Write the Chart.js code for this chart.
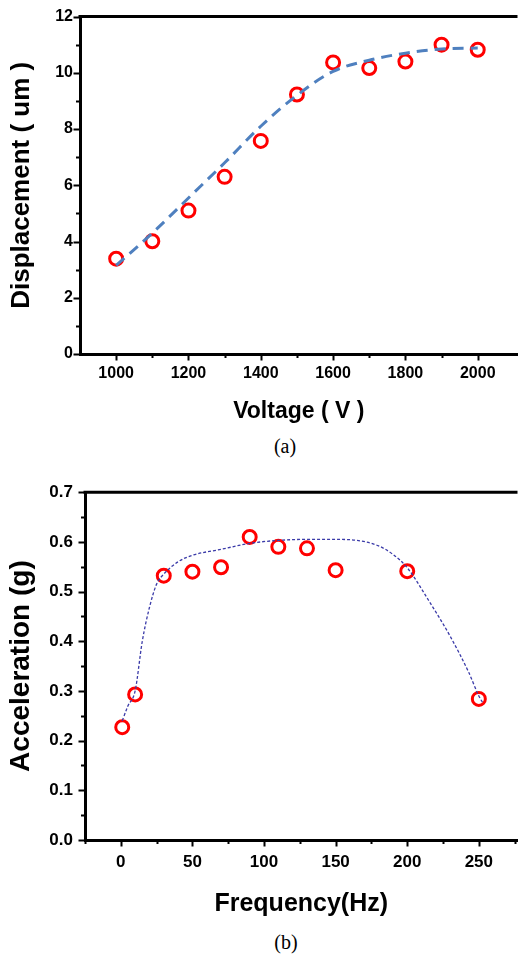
<!DOCTYPE html>
<html>
<head>
<meta charset="utf-8">
<script src="https://cdn.jsdelivr.net/npm/chart.js@4.4.1/dist/chart.umd.min.js"></script>
<style>
  html, body { margin: 0; padding: 0; background: #fff; }
  body { width: 527px; height: 957px; position: relative; overflow: hidden; }
  canvas { position: absolute; left: 0; }
  #chartA { top: 0; }
  #chartB { top: 470px; }
  .cap { position: absolute; font-family: 'Liberation Serif', 'Times New Roman', serif; font-size: 20px; color: #000; transform: translate(-50%, -50%); }
</style>
</head>
<body>
<canvas id="chartA" width="527" height="430"></canvas>
<div class="cap" style="left:285px; top:446px;">(a)</div>
<canvas id="chartB" width="527" height="455"></canvas>
<div class="cap" style="left:286px; top:942px;">(b)</div>
<script>
// (a) displacement vs voltage
const voltage = [1000, 1100, 1200, 1300, 1400, 1500, 1600, 1700, 1800, 1900, 2000];
const displacement = [3.39, 4.01, 5.1, 6.3, 7.58, 9.23, 10.37, 10.17, 10.4, 11.0, 10.82];
const voltageFit = [1000, 1100, 1200, 1300, 1400, 1500, 1600, 1700, 1800, 1900, 2000];
const displacementFit = [3.15, 4.3, 5.55, 6.8, 8.1, 9.2, 10.05, 10.45, 10.7, 10.85, 10.88];
const voltageTicks = [1000, 1200, 1400, 1600, 1800, 2000];
const voltageMinor = [1100, 1300, 1500, 1700, 1900];
const dispTicks = [0, 2, 4, 6, 8, 10, 12];
const dispMinor = [1, 3, 5, 7, 9, 11];

// (b) acceleration vs frequency
const freq = [1, 10, 30, 50, 70, 90, 110, 130, 150, 200, 250];
const accel = [0.227, 0.293, 0.532, 0.540, 0.549, 0.610, 0.590, 0.587, 0.543, 0.541, 0.284];
const freqFit = [1, 5, 10, 15, 20, 25, 30, 40, 50, 70, 90, 110, 130, 150, 165, 180, 190, 200, 215, 230, 243, 250, 253];
const accelFit = [0.24, 0.27, 0.30, 0.40, 0.468, 0.515, 0.535, 0.56, 0.573, 0.585, 0.597, 0.603, 0.605, 0.605, 0.603, 0.592, 0.575, 0.548, 0.482, 0.41, 0.337, 0.29, 0.275];
const freqTicks = [0, 50, 100, 150, 200, 250];
const freqMinor = [-25, 25, 75, 125, 175, 225, 275];
const accelTicks = [0, 0.1, 0.2, 0.3, 0.4, 0.5, 0.6, 0.7];
const accelMinor = [0.05, 0.15, 0.25, 0.35, 0.45, 0.55, 0.65];

const pairs = (xs, ys) => xs.map((x, i) => ({ x: x, y: ys[i] }));

// draws outward major/minor ticks and the top frame line
const axisTicks = {
  id: 'axisTicks',
  afterDraw(chart, args, opts) {
    const { ctx, chartArea: a, scales: { x, y } } = chart;
    ctx.save();
    ctx.strokeStyle = '#000';
    ctx.lineWidth = 2;
    ctx.beginPath();
    const tickX = (vals, len) => vals.forEach(v => {
      const px = Math.round(x.getPixelForValue(v)) + 0.5;
      ctx.moveTo(px, a.bottom);
      ctx.lineTo(px, a.bottom + 1.5 + len);
    });
    const tickY = (vals, len) => vals.forEach(v => {
      const py = Math.round(y.getPixelForValue(v)) + 0.5;
      ctx.moveTo(a.left, py);
      ctx.lineTo(a.left - 1.5 - len, py);
    });
    tickX(opts.xMajor, 5);
    tickX(opts.xMinor, 2.5);
    tickY(opts.yMajor, 5);
    tickY(opts.yMinor, 2.5);
    ctx.stroke();
    ctx.lineWidth = 3;
    ctx.beginPath();
    ctx.moveTo(a.left - 1.5, a.top);
    ctx.lineTo(a.right, a.top);
    ctx.stroke();
    ctx.restore();
  }
};

function makeChart(id, cfg) {
  const tickFont = { family: "'Liberation Sans', Arial, sans-serif", weight: 'bold', size: cfg.tickSize };
  return new Chart(document.getElementById(id), {
    type: 'scatter',
    data: {
      datasets: [
        {
          data: pairs(cfg.fitX, cfg.fitY),
          showLine: true,
          borderColor: cfg.fitColor,
          borderWidth: cfg.fitWidth,
          borderDash: cfg.fitDash,
          cubicInterpolationMode: 'monotone',
          pointRadius: 0,
          fill: false,
          order: 0
        },
        {
          data: pairs(cfg.xs, cfg.ys),
          pointStyle: 'circle',
          pointRadius: 6.5,
          pointBorderWidth: 3,
          pointBorderColor: '#ff0000',
          pointBackgroundColor: 'rgba(0,0,0,0)',
          showLine: false,
          order: 1
        }
      ]
    },
    options: {
      responsive: false,
      animation: false,
      devicePixelRatio: 1,
      layout: { padding: { top: cfg.top, right: 0, left: 0, bottom: 0 } },
      plugins: {
        legend: { display: false },
        tooltip: { enabled: false },
        axisTicks: { xMajor: cfg.xTicks, xMinor: cfg.xMinor, yMajor: cfg.yTicks, yMinor: cfg.yMinor }
      },
      scales: {
        x: {
          type: 'linear',
          min: cfg.xMin,
          max: cfg.xMax,
          afterBuildTicks: s => { s.ticks = cfg.xTicks.map(v => ({ value: v })); },
          afterFit: s => { s.height = cfg.xHeight; },
          grid: { display: false, drawTicks: false },
          border: { display: true, color: '#000', width: 3 },
          ticks: { autoSkip: false, maxRotation: 0, padding: cfg.xPad, color: '#000', font: tickFont, callback: v => String(v) },
          title: {
            display: true,
            text: cfg.xTitle,
            color: '#000',
            font: { family: "'Liberation Sans', Arial, sans-serif", weight: 'bold', size: cfg.xTitleSize },
            padding: { top: 0, bottom: cfg.xTitlePad }
          }
        },
        y: {
          type: 'linear',
          min: cfg.yMin,
          max: cfg.yMax,
          afterBuildTicks: s => { s.ticks = cfg.yTicks.map(v => ({ value: v })); },
          afterFit: s => { s.width = cfg.yWidth; },
          grid: { display: false, drawTicks: false },
          border: { display: true, color: '#000', width: 3 },
          ticks: { autoSkip: false, padding: cfg.yPad, color: '#000', font: tickFont, callback: cfg.yFmt },
          title: {
            display: true,
            text: cfg.yTitle,
            color: '#000',
            font: { family: "'Liberation Sans', Arial, sans-serif", weight: 'bold', size: cfg.yTitleSize },
            padding: { top: cfg.yTitlePad, bottom: 0 }
          }
        }
      }
    },
    plugins: [axisTicks]
  });
}

makeChart('chartA', {
  xs: voltage, ys: displacement, fitX: voltageFit, fitY: displacementFit,
  fitColor: '#4f80bf', fitWidth: 3, fitDash: [11, 7],
  xMin: 900, xMax: 2110, yMin: 0, yMax: 12,
  xTicks: voltageTicks, xMinor: voltageMinor, yTicks: dispTicks, yMinor: dispMinor,
  top: 15, xHeight: 76, yWidth: 80, tickSize: 16, xPad: 10, yPad: 7,
  xTitle: 'Voltage ( V )', xTitleSize: 23, xTitlePad: 5,
  yTitle: 'Displacement ( um )', yTitleSize: 26, yTitlePad: 6,
  yFmt: v => String(v)
});

makeChart('chartB', {
  xs: freq, ys: accel, fitX: freqFit, fitY: accelFit,
  fitColor: '#3a3aa8', fitWidth: 1.3, fitDash: [3, 2],
  xMin: -25, xMax: 277, yMin: 0, yMax: 0.7,
  xTicks: freqTicks, xMinor: freqMinor, yTicks: accelTicks, yMinor: accelMinor,
  top: 17, xHeight: 85, yWidth: 85, tickSize: 17, xPad: 12, yPad: 12,
  xTitle: 'Frequency(Hz)', xTitleSize: 25, xTitlePad: 6,
  yTitle: 'Acceleration (g)', yTitleSize: 28, yTitlePad: 4,
  yFmt: v => v.toFixed(1)
});
</script>
</body>
</html>
